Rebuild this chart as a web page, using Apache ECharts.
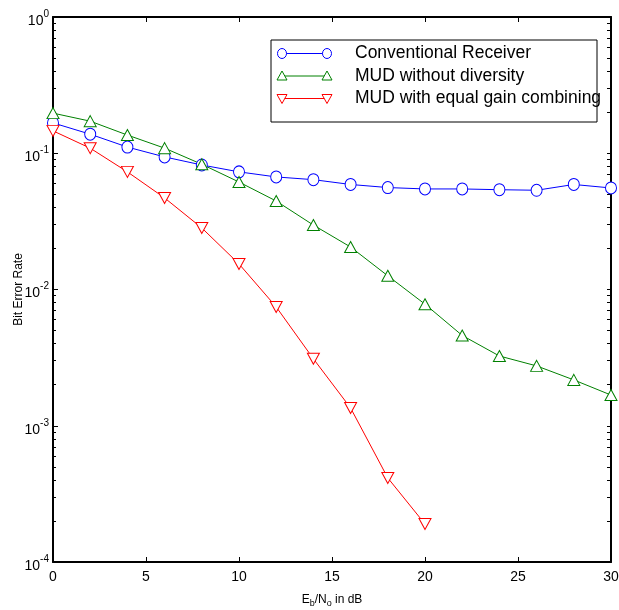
<!DOCTYPE html>
<html>
<head>
<meta charset="utf-8">
<script src="https://cdn.jsdelivr.net/npm/echarts@6/dist/echarts.min.js"></script>
<style>
  html, body { margin: 0; padding: 0; background: #fff; }
  #chart { width: 619px; height: 610px; }
</style>
</head>
<body>
<div id="chart"></div>
<script>
// Eb/No (dB)
const snr = [0, 2, 4, 6, 8, 10, 12, 14, 16, 18, 20, 22, 24, 26, 28, 30]
const snrRed = [0, 2, 4, 6, 8, 10, 12, 14, 16, 18, 20]

const conventional = [0.167, 0.138, 0.111, 0.094, 0.082, 0.073, 0.067, 0.064, 0.059, 0.056, 0.0547, 0.0547, 0.054, 0.0535, 0.059, 0.0556]
const mudNoDiv = [0.197, 0.172, 0.136, 0.109, 0.083, 0.0615, 0.0446, 0.0297, 0.0205, 0.0126, 0.0078, 0.0046, 0.00325, 0.00275, 0.00217, 0.00168]
const mudEgc = [0.146, 0.109, 0.073, 0.047, 0.0283, 0.0154, 0.00745, 0.0031, 0.00135, 0.000414, 0.00019]

const seriesNames = ['Conventional Receiver', 'MUD without diversity', 'MUD with equal gain combining']
const seriesColors = ['#0000ff', '#008000', '#ff0000']

const xTicks = [0, 5, 10, 15, 20, 25, 30]
const decades = [1e-4, 1e-3, 1e-2, 1e-1, 1]
const mantissas = [2, 3, 4, 5, 6, 7, 8, 9]

const chart = echarts.init(document.getElementById('chart'))

// minor log ticks between decades
const minorTicks = []
decades.slice(0, 4).forEach(d => mantissas.forEach(m => minorTicks.push(m * d)))
const allYTicks = decades.concat(minorTicks)

const supLabel = v => {
  const e = Math.round(Math.log10(v))
  return '{b|10}{s|' + e + '}'
}

const lineSeries = (name, xs, ys, color, symbolRotate) => ({
  name,
  type: 'line',
  data: xs.map((x, i) => [x, ys[i]]),
  symbol: symbolRotate === undefined ? 'circle' : 'triangle',
  symbolRotate: symbolRotate || 0,
  symbolSize: symbolRotate === undefined ? [11, 12] : [12, 11],
  showAllSymbol: true,
  itemStyle: { color: '#fff', borderColor: color, borderWidth: 1 },
  lineStyle: { color, width: 1 },
  emphasis: { disabled: true },
  animation: false,
  z: 3
})

// legend drawn as graphics to match the two-marker style
const legendX = 271, legendY = 40, rowH = 22.5
const legendGraphics = [{
  type: 'rect',
  shape: { x: legendX, y: legendY, width: 326, height: 82 },
  style: { fill: '#fff', stroke: '#000', lineWidth: 1 },
  z: 10
}]
const legendSymbols = ['circle', 'triangleUp', 'triangleDown']
seriesNames.forEach((name, i) => {
  const cy = legendY + 13.5 + i * rowH
  const c = seriesColors[i]
  legendGraphics.push({
    type: 'line', shape: { x1: 282, y1: cy, x2: 327, y2: cy },
    style: { stroke: c, lineWidth: 1 }, z: 11
  })
  ;[282, 327].forEach(px => {
    if (legendSymbols[i] === 'circle') {
      legendGraphics.push({
        type: 'ellipse', shape: { cx: px, cy, rx: 4.5, ry: 5 },
        style: { fill: '#fff', stroke: c, lineWidth: 1 }, z: 12
      })
    } else {
      const up = legendSymbols[i] === 'triangleUp'
      const pts = up
        ? [[px, cy - 5], [px - 5, cy + 4], [px + 5, cy + 4]]
        : [[px, cy + 5], [px - 5, cy - 4], [px + 5, cy - 4]]
      legendGraphics.push({
        type: 'polygon', shape: { points: pts },
        style: { fill: '#fff', stroke: c, lineWidth: 1 }, z: 12
      })
    }
  })
  legendGraphics.push({
    type: 'text',
    style: {
      text: name, x: 355, y: cy, verticalAlign: 'middle',
      font: '17.5px "Liberation Sans", Arial, sans-serif', fill: '#000'
    },
    z: 12
  })
})

const option = {
  animation: false,
  grid: { left: 53, right: 8, top: 17, bottom: 48, outerBoundsMode: 'none', containLabel: false },
  xAxis: [{
    type: 'value', min: 0, max: 30, interval: 5,
    name: '{n|E}{sub|b}{n|/N}{sub|o}{n| in dB}',
    nameLocation: 'middle', nameGap: 29, nameMoveOverlap: false,
    nameTextStyle: {
      rich: {
        n: { fontSize: 12, fontFamily: 'Liberation Sans', color: '#000' },
        sub: { fontSize: 9, fontFamily: 'Liberation Sans', color: '#000', padding: [8, 0, 0, 0] }
      }
    },
    axisLine: { show: true, lineStyle: { color: '#000', width: 2 } },
    axisTick: { show: true, inside: true, length: 5, lineStyle: { color: '#000' } },
    axisLabel: { fontSize: 14, fontFamily: 'Liberation Sans', color: '#000', margin: 8,
      formatter: v => xTicks.includes(v) ? String(v) : '' },
    splitLine: { show: false }
  }, {
    type: 'value', min: 0, max: 30, interval: 5, position: 'top',
    axisLine: { show: true, lineStyle: { color: '#000', width: 2 } },
    axisTick: { show: true, inside: true, length: 5, lineStyle: { color: '#000' } },
    axisLabel: { show: false },
    splitLine: { show: false }
  }],
  yAxis: [{
    type: 'log', min: 1e-4, max: 1, position: 'left',
    name: 'Bit Error Rate', nameLocation: 'middle', nameGap: 28, nameMoveOverlap: false,
    nameTextStyle: { fontSize: 12, fontFamily: 'Liberation Sans', color: '#000' },
    axisLine: { show: true, lineStyle: { color: '#000', width: 2 } },
    axisTick: { show: true, inside: true, length: 5, lineStyle: { color: '#000' } },
    axisLabel: {
      color: '#000', margin: 4, formatter: supLabel,
      rich: {
        b: { fontSize: 14, fontFamily: 'Liberation Sans', color: '#000', padding: [8, 0, 0, 0] },
        s: { fontSize: 10, fontFamily: 'Liberation Sans', color: '#000', padding: [0, 0, 6, 0] }
      }
    },
    splitLine: { show: false }
  }, {
    type: 'log', min: 1e-4, max: 1, position: 'left', offset: 0,
    axisLine: { show: false },
    axisLabel: { show: false },
    axisTick: { show: true, inside: true, length: 3, customValues: minorTicks, lineStyle: { color: '#000' } },
    splitLine: { show: false }
  }, {
    type: 'log', min: 1e-4, max: 1, position: 'right',
    axisLine: { show: true, lineStyle: { color: '#000', width: 2 } },
    axisLabel: { show: false },
    axisTick: { show: true, inside: true, length: 4, customValues: allYTicks, lineStyle: { color: '#000' } },
    splitLine: { show: false }
  }],
  graphic: legendGraphics,
  series: [
    lineSeries(seriesNames[0], snr, conventional, seriesColors[0]),
    lineSeries(seriesNames[1], snr, mudNoDiv, seriesColors[1], 0),
    lineSeries(seriesNames[2], snrRed, mudEgc, seriesColors[2], 180)
  ]
}

chart.setOption(option)
</script>
</body>
</html>
